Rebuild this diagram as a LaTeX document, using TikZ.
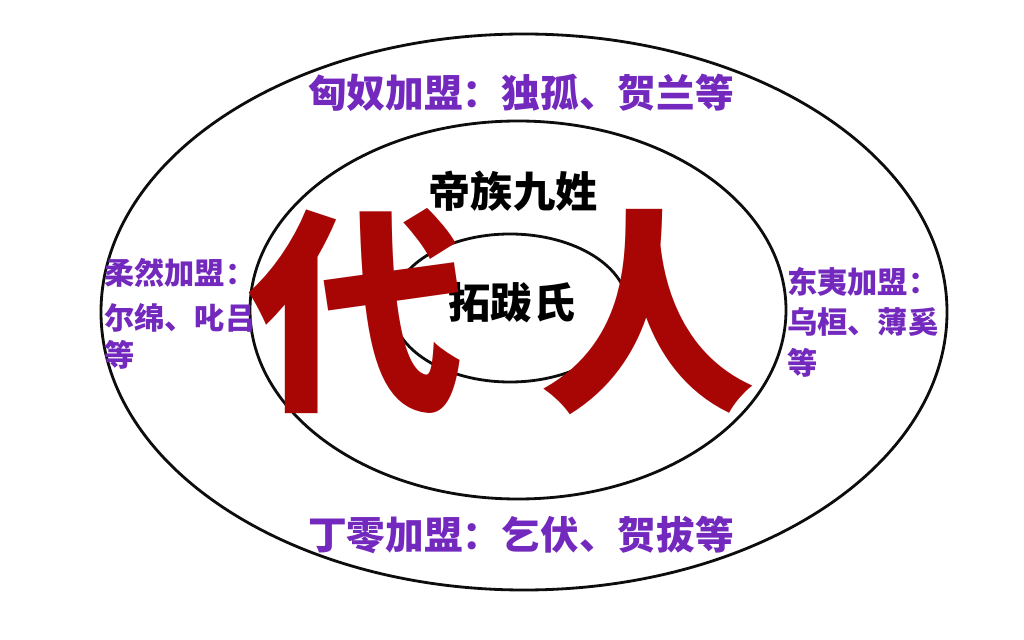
\documentclass[tikz,border=0pt]{standalone}
\usepackage{fontspec}
\usepackage{tikz}
\newfontfamily\cjk{Noto Sans CJK SC}
\definecolor{ttqqbb}{rgb}{0.45,0.16,0.74}
\definecolor{aaqqqq}{rgb}{0.66,0.02,0.02}
\definecolor{uququq}{rgb}{0.05,0.05,0.05}

\begin{document}
\begin{tikzpicture}[line cap=round,line join=round,x=0.025cm,y=0.025cm,
  ring/.style={color=uququq,line width=2pt},
  meng/.style={color=ttqqbb,inner sep=0pt,font=\cjk\bfseries\fontsize{27.5}{33}\selectfont},
  side/.style={color=ttqqbb,inner sep=0pt,anchor=west,font=\cjk\bfseries\fontsize{21.5}{26}\selectfont},
  zu/.style={color=black,inner sep=0pt,font=\cjk\bfseries\fontsize{30}{36}\selectfont},
  dai/.style={color=aaqqqq,inner sep=0pt,font=\cjk\bfseries\fontsize{154}{160}\selectfont}]
\useasboundingbox (0,0) rectangle (1024,639);
\fill[white] (0,0) rectangle (1024,639);
\draw [ring] (524,327) ellipse (423 and 278);
\draw [ring] (518,329) ellipse (268 and 189);
\draw [ring] (510,331) ellipse (118 and 74);
\draw (521,546) node[meng] (xiongnu) {匈奴加盟：独孤、贺兰等};
\draw (521,104) node[meng] (dingling) {丁零加盟：乞伏、贺拔等};
\draw (104,366) node[side] (rouranA) {柔然加盟：};
\draw (104,321) node[side] (rouranB) {尔绵、叱吕};
\draw (104,284) node[side] (rouranC) {等};
\draw (787,357) node[side] (dongyiA) {东夷加盟：};
\draw (787,317) node[side] (dongyiB) {乌桓、薄奚};
\draw (787,276) node[side] (dongyiC) {等};
\draw (513,448) node[zu] (dizu) {帝族九姓};
\draw (512,336) node[zu] (tuoba) {拓跋氏};
\draw (357,328) node[dai] (dai) {代};
\draw (648,327) node[dai] (ren) {人};
\end{tikzpicture}
\end{document}
